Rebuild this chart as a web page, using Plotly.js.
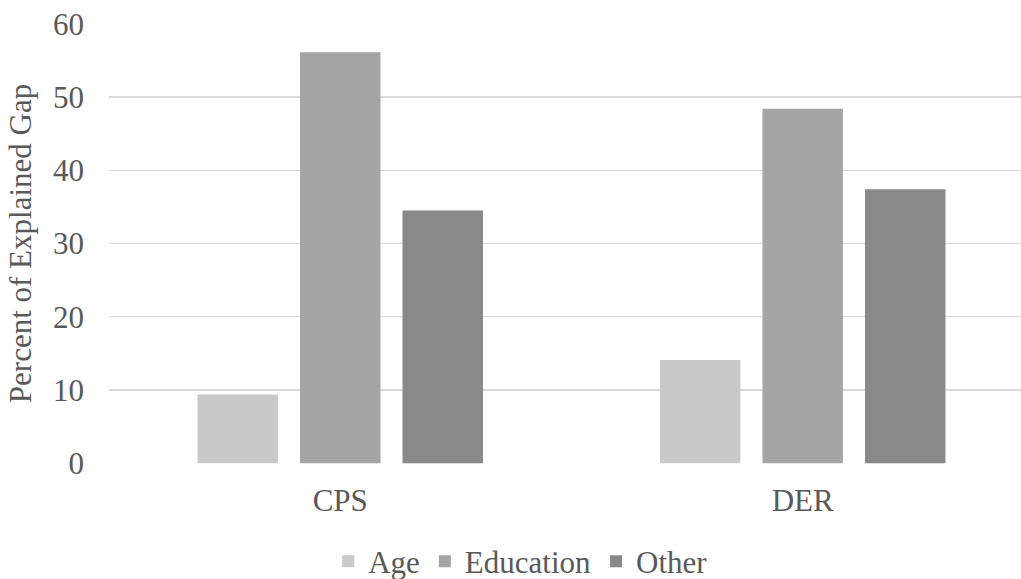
<!DOCTYPE html>
<html>
<head>
<meta charset="utf-8">
<script src="https://cdn.plot.ly/plotly-3.0.1.min.js"></script>
<style>html,body{margin:0;padding:0;background:#fff;}#chart{width:1021px;height:579px;}</style>
</head>
<body>
<div id="chart"></div>
<script>
const categories = ["CPS", "DER"];
const seriesNames = ["Age", "Education", "Other"];
const ageValues = [9.4, 14.1];
const educationValues = [56.1, 48.4];
const otherValues = [34.5, 37.4];
const seriesColors = ["#c9c9c9", "#a5a5a5", "#898989"];
const yTickValues = [0, 10, 20, 30, 40, 50, 60];

const seriesValues = [ageValues, educationValues, otherValues];
const font = {family: "'Liberation Serif', 'Times New Roman', serif", size: 31, color: "#595959"};

const traces = seriesNames.map((name, i) => ({
  type: "bar",
  name: name,
  x: categories,
  y: seriesValues[i],
  marker: {color: seriesColors[i]},
  hoverinfo: "skip"
}));

const layout = {
  width: 1021,
  height: 579,
  margin: {l: 109, r: 0, t: 23, b: 115, pad: 0},
  paper_bgcolor: "#ffffff",
  plot_bgcolor: "#ffffff",
  font: font,
  barmode: "group",
  bargap: 0.335,
  bargroupgap: 0.215,
  showlegend: true,
  legend: {
    orientation: "h",
    xref: "container", yref: "container",
    x: 0.51, xanchor: "center",
    y: 0.03, yanchor: "middle",
    font: font,
    traceorder: "normal"
  },
  xaxis: {
    type: "category",
    range: [-0.5, 1.472],
    showgrid: false,
    zeroline: false,
    showline: false,
    ticks: "",
    ticklabelstandoff: 15,
    tickfont: font
  },
  yaxis: {
    range: [-0.1, 60.1],
    tickvals: yTickValues,
    showgrid: true,
    gridcolor: "#d9d9d9",
    gridwidth: 1.3,
    zeroline: false,
    showline: false,
    ticks: "",
    ticklabelstandoff: 24,
    tickfont: font,
    title: {text: "Percent of Explained Gap", font: font, standoff: 12}
  }
};

Plotly.newPlot("chart", traces, layout, {displayModeBar: false, staticPlot: true});
</script>
</body>
</html>
